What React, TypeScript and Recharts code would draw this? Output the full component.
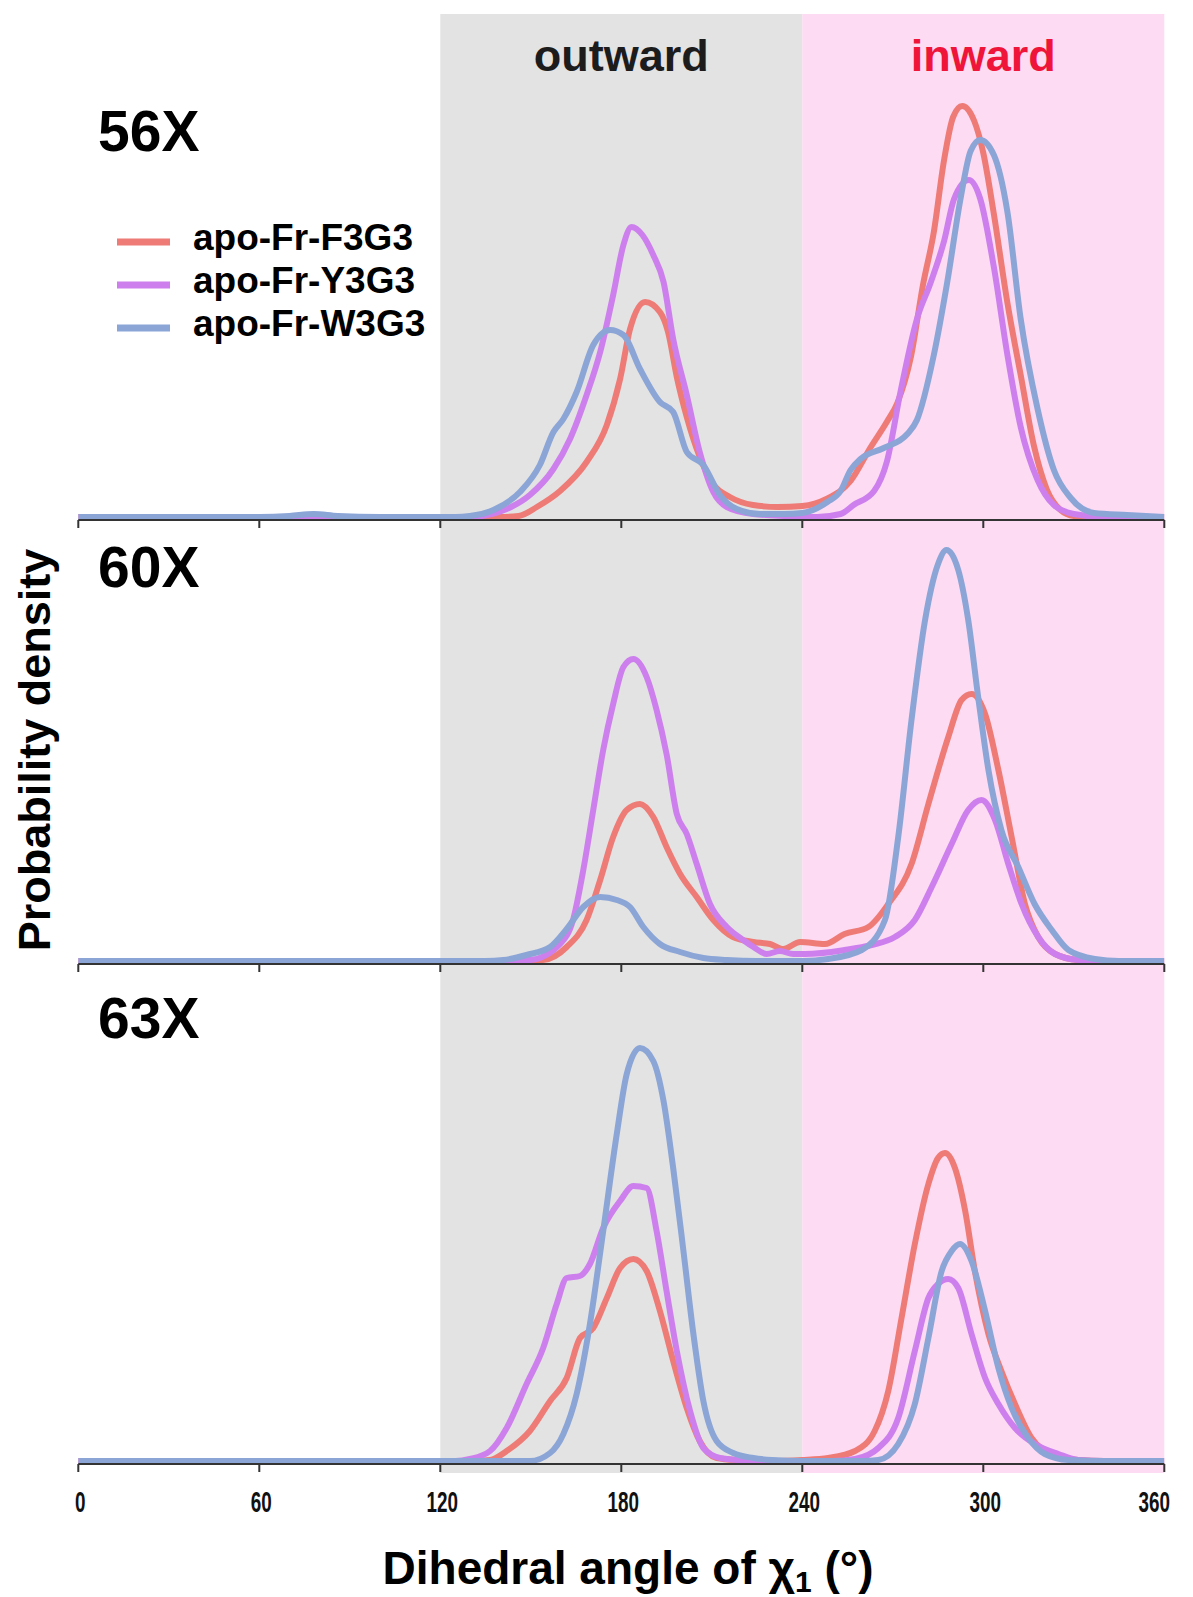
import React from "react";
import { LineChart, Line, XAxis, YAxis, ReferenceArea } from "recharts";

type Pt = [number, number];

const xTicks = [0, 60, 120, 180, 240, 300, 360];
const seriesNames = ["apo-Fr-F3G3", "apo-Fr-Y3G3", "apo-Fr-W3G3"];
const seriesColors = ["#ee7b76", "#cd7fee", "#8ba5d7"];
const panelNames = ["56X", "60X", "63X"];
const regionBounds: Pt[] = [[120, 240], [240, 360]];
const regionLabels = ["outward", "inward"];
const regionFills = ["#e3e3e3", "#fcdbf3"];
const regionTextColors = ["#1c1c1c", "#ef1439"];

// density curves, [angle, density] (arbitrary units)
const f3g3_56: Pt[] = [[0,0],[120,0],[140,0],[146,1],[152,10],[159.7,26],[168.5,55],[175.2,92],[179.6,138],[182.9,188],[187.9,215],[192.8,205],[195.5,185],[198.4,140],[201.7,100],[206,60],[210.4,33],[216,20],[223.7,12],[232,10],[240,11],[248,18],[256,36],[262.7,70],[268,95],[271.5,114],[276,160],[280,232],[283.6,285],[287,357],[290,400],[293,411],[297,396],[300,364],[303.5,303],[308,214],[312.4,142],[316.8,71],[321,28],[325.6,7],[330,1],[336,0],[360,0]];
const y3g3_56: Pt[] = [[0,0],[130,0],[135.4,2],[142,8],[149.7,22],[157.5,48],[163,78],[168.5,122],[173,165],[177.3,222],[180.7,272],[183.4,290],[187,282],[190.6,262],[194,235],[197.2,178],[201.7,122],[206,65],[210.5,25],[215,10],[223.7,3],[235,1],[245,0],[252.7,3],[257,12],[263.8,26],[268,55],[272.6,126],[278,198],[282.5,234],[287,276],[290.3,318],[295.2,337],[299,318],[303.5,250],[308,162],[312.4,90],[318,37],[323.4,12],[330,3],[340,0],[360,0]];
const w3g3_56: Pt[] = [[0,0],[60,0],[70,1],[78,3],[86,1],[100,0],[125,0],[129.8,1],[137.6,7],[146.4,25],[153,52],[157.5,85],[160.8,98],[165.2,125],[170.7,172],[176.3,187],[180.7,182],[186.2,148],[192.8,115],[197.2,105],[201.7,65],[207.2,52],[212.7,22],[218.3,8],[226,3],[234,3],[240,4],[248.3,15],[252.7,26],[256,47],[259.3,58],[267,69],[274.8,83],[278,97],[283.6,162],[288,234],[292.5,319],[295.8,366],[299,377],[303.5,362],[308,305],[312.4,198],[318,108],[323.4,47],[329,19],[336.7,4],[347.7,2],[360,0]];

const f3g3_60: Pt[] = [[0,0],[145,0],[154,1],[161.9,14],[168.5,41],[173,81],[177.3,124],[181.8,151],[186.2,157],[190.6,144],[195,114],[199.5,87],[205,64],[210.5,41],[217,24],[223.8,19],[229.3,17],[233.7,12],[239.3,19],[247.5,17],[254,27],[261.9,34],[268.5,57],[276.2,97],[281.8,157],[288.4,224],[292.8,261],[296.1,267],[300.6,247],[305,191],[309.4,124],[313.8,57],[318.2,24],[323.8,7],[331.5,1],[340,0],[360,0]];
const y3g3_60: Pt[] = [[0,0],[140,0],[149.7,1],[159.7,17],[164,41],[167.4,91],[170.7,151],[174,211],[177.3,257],[180.7,294],[184,302],[188.4,284],[191.7,251],[195,207],[198.4,147],[201.7,127],[205,97],[209.4,57],[215,34],[220.4,21],[223.8,14],[228.2,7],[232.6,10],[237,7],[241,7],[254,11],[263,16],[270.7,24],[277.3,41],[282.9,74],[289.5,117],[295,151],[299.4,161],[303.9,141],[308.3,97],[312.7,57],[318.2,24],[323.8,7],[331.5,1],[340,0],[360,0]];
const w3g3_60: Pt[] = [[0,0],[135,0],[140.9,1],[148.6,6],[156.4,14],[161.9,32],[167.4,54],[173,64],[178.5,61],[182.9,54],[187.3,34],[192.8,17],[199.5,9],[207.2,3],[215,1],[225,0],[240,0],[248.6,2],[259.7,11],[267.4,41],[271.8,124],[276.2,241],[280.7,341],[285,397],[287.8,411],[291.7,391],[295,341],[298.3,264],[301.7,191],[306,131],[311.6,94],[317,57],[322.7,31],[328.2,11],[337,2],[345,0],[360,0]];

const f3g3_63: Pt[] = [[0,0],[130,0],[136.5,1],[142,10],[149.7,30],[156.4,60],[161.9,83],[166.3,123],[170.7,133],[175.2,163],[179.6,193],[184,202],[188.4,190],[192.8,150],[197.2,100],[201.7,53],[206,20],[211.6,3],[218,1],[230,0],[240,1],[248.6,3],[257.5,10],[264,30],[268.5,70],[272.9,143],[277.3,217],[281.8,277],[285,303],[287.3,308],[290.6,293],[294,250],[297.2,190],[301.7,127],[306,90],[310.5,57],[316,23],[322.7,7],[331.5,1],[340,0],[360,0]];
const y3g3_63: Pt[] = [[0,0],[125,0],[129.8,2],[136.5,10],[142,33],[148.6,77],[154.1,113],[158.6,157],[161.9,183],[166.3,185],[169.6,197],[174,233],[179.6,260],[184,275],[188.4,273],[191.7,230],[195,170],[198.4,110],[202.8,50],[207.2,13],[212.7,3],[219,1],[230,0],[250,0],[257.5,2],[265.2,13],[271.8,43],[277.3,110],[281.8,163],[285,177],[288.4,182],[291.7,173],[296.1,127],[300.6,83],[305,57],[310.5,33],[317.1,17],[324.9,7],[331.5,1],[340,0],[360,0]];
const w3g3_63: Pt[] = [[0,0],[145,0],[149.7,0],[156.4,8],[160.8,27],[165.2,67],[169.6,137],[174,230],[178.5,327],[181.8,387],[186.2,413],[190.6,400],[194,360],[197.2,293],[200.6,210],[203.9,127],[207.2,60],[211.6,20],[217.1,8],[223.8,3],[230,1],[240,0],[260,0],[265.2,1],[271.8,17],[277.3,57],[281.8,123],[286.2,190],[289.5,210],[292.3,217],[296.1,200],[300.6,150],[305,93],[309.4,53],[314.9,23],[320.4,7],[328.2,1],[340,0],[360,0]];

const panelSeries = [
  [f3g3_56, y3g3_56, w3g3_56],
  [f3g3_60, y3g3_60, w3g3_60],
  [f3g3_63, y3g3_63, w3g3_63],
];
const panelYMax = [503, 441, 497];

const FONT = "'Liberation Sans', Arial, Helvetica, sans-serif";
const W = 1193;
const M = { left: 78.3, right: 28.7 };
// top of each chart, chart height, top margin, x-axis height
const panelBox = [
  { top: 0, height: 530, mt: 14, axisH: 10 },
  { top: 520, height: 454, mt: 0, axisH: 10 },
  { top: 964, height: 560, mt: 0, axisH: 60 },
];

const toRows = (pts: Pt[]) => pts.map(([x, y]) => ({ x, y }));

// the figure's tick numbers are set in a narrow face
const TickLabel = (props: any) => {
  const { x, y, payload, index } = props;
  const s = String(payload.value);
  const lastTick = index === xTicks.length - 1;
  return (
    <text
      x={lastTick ? x - 10 : x + 2}
      y={y + 38}
      textAnchor="middle"
      fontSize={30}
      fontWeight="bold"
      fontFamily={FONT}
      fill="#111"
      textLength={s.length * 10.5}
      lengthAdjust="spacingAndGlyphs"
    >
      {s}
    </text>
  );
};

function Panel({ idx }: { idx: number }) {
  const box = panelBox[idx];
  const last = idx === panelBox.length - 1;
  return (
    <div style={{ position: "absolute", left: 0, top: box.top }}>
      <LineChart width={W} height={box.height} margin={{ top: box.mt, right: M.right, bottom: 0, left: M.left }}>
        <XAxis
          dataKey="x"
          type="number"
          domain={[0, 360]}
          ticks={xTicks}
          interval={0}
          allowDataOverflow
          height={box.axisH}
          axisLine={{ stroke: "#333", strokeWidth: 2 }}
          tickLine={{ stroke: "#333", strokeWidth: 2 }}
          tickSize={8}
          tick={last ? <TickLabel /> : true}
          tickFormatter={last ? undefined : () => ""}
        />
        <YAxis hide type="number" domain={[-3, panelYMax[idx]]} allowDataOverflow />
        {panelSeries[idx].map((pts, i) => (
          <Line
            key={seriesNames[i]}
            data={toRows(pts)}
            dataKey="y"
            name={seriesNames[i]}
            type="monotone"
            stroke={seriesColors[i]}
            strokeWidth={6}
            dot={false}
            activeDot={false}
            isAnimationActive={false}
          />
        ))}
      </LineChart>
    </div>
  );
}

export default function App() {
  return (
    <div style={{ position: "absolute", left: 0, top: 0, width: W, height: 1597, background: "#fff", fontFamily: FONT }}>
      <div style={{ position: "absolute", left: 0, top: 0 }}>
        <LineChart width={W} height={1597} margin={{ top: 14, right: M.right, bottom: 124, left: M.left }}>
          <XAxis type="number" dataKey="x" domain={[0, 360]} hide />
          <YAxis type="number" domain={[0, 1]} hide />
          {regionBounds.map(([a, b], i) => (
            <ReferenceArea
              key={regionLabels[i]}
              x1={a}
              x2={b}
              y1={0}
              y2={1}
              fill={regionFills[i]}
              fillOpacity={1}
              stroke="none"
              ifOverflow="extendDomain"
              label={{
                value: regionLabels[i],
                position: "insideTop",
                offset: 25,
                fill: regionTextColors[i],
                fontSize: 45,
                fontWeight: "bold",
                fontFamily: FONT,
              }}
            />
          ))}
        </LineChart>
      </div>
      {panelBox.map((_, i) => (
        <Panel key={panelNames[i]} idx={i} />
      ))}
      <svg width={W} height={1597} style={{ position: "absolute", left: 0, top: 0, pointerEvents: "none" }} fontFamily={FONT} fontWeight="bold">
        {panelNames.map((n, i) => (
          <text key={n} x={98} y={[151, 587, 1038][i]} fontSize={57} fill="#000">
            {n}
          </text>
        ))}
        {seriesNames.map((n, i) => (
          <g key={n}>
            <line x1={117} x2={170} y1={242 + i * 43} y2={242 + i * 43} stroke={seriesColors[i]} strokeWidth={7} />
            <text x={193} y={250 + i * 43} fontSize={37} fill="#000">
              {n}
            </text>
          </g>
        ))}
        <text transform="translate(50,750) rotate(-90)" textAnchor="middle" fontSize={45} fill="#000">
          Probability density
        </text>
        <text x={628} y={1584} textAnchor="middle" fontSize={46} fill="#000">
          Dihedral angle of χ<tspan fontSize={30} dy={8}>1</tspan>
          <tspan dy={-8}> (°)</tspan>
        </text>
      </svg>
    </div>
  );
}
